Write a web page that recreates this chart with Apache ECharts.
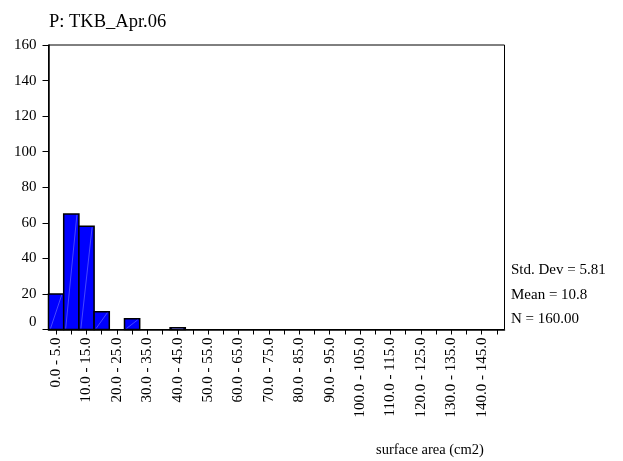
<!DOCTYPE html>
<html>
<head>
<meta charset="utf-8">
<script src="https://cdn.jsdelivr.net/npm/echarts@6/dist/echarts.min.js"></script>
<style>
  html, body { margin: 0; padding: 0; background: #fff; }
  #chart { width: 623px; height: 461px; }
</style>
</head>
<body>
<div id="chart"></div>
<script>
// Histogram of surface area, 5 cm2 bins
const binLabels = [
  '0.0 - 5.0', '5.0 - 10.0', '10.0 - 15.0', '15.0 - 20.0', '20.0 - 25.0',
  '25.0 - 30.0', '30.0 - 35.0', '35.0 - 40.0', '40.0 - 45.0', '45.0 - 50.0',
  '50.0 - 55.0', '55.0 - 60.0', '60.0 - 65.0', '65.0 - 70.0', '70.0 - 75.0',
  '75.0 - 80.0', '80.0 - 85.0', '85.0 - 90.0', '90.0 - 95.0', '95.0 - 100.0',
  '100.0 - 105.0', '105.0 - 110.0', '110.0 - 115.0', '115.0 - 120.0', '120.0 - 125.0',
  '125.0 - 130.0', '130.0 - 135.0', '135.0 - 140.0', '140.0 - 145.0', '145.0 - 150.0'
];
const counts = [
  20, 65, 58, 10, 0, 6, 0, 0, 1, 0,
  0, 0, 0, 0, 0, 0, 0, 0, 0, 0,
  0, 0, 0, 0, 0, 0, 0, 0, 0, 0
];
const statLines = ['Std. Dev = 5.81', 'Mean = 10.8', 'N = 160.00'];
const titleText = 'P: TKB_Apr.06';
const xTitle = 'surface area (cm2)';

const FONT = '"Liberation Serif", "Times New Roman", serif';

const chart = echarts.init(document.getElementById('chart'), null, { renderer: 'canvas' });

chart.setOption({
  backgroundColor: '#fff',
  animation: false,
  title: {
    text: titleText,
    left: 44,
    top: 8,
    textStyle: { fontFamily: FONT, fontSize: 18.5, fontWeight: 'normal', color: '#000' }
  },
  grid: {
    left: 48.5,
    right: 118.5,
    top: 45,
    bottom: 131.5,
    show: true,
    borderColor: '#000',
    borderWidth: 1,
    backgroundColor: 'transparent'
  },
  xAxis: {
    type: 'category',
    data: binLabels,
    boundaryGap: true,
    axisLine: { show: true, lineStyle: { color: '#000', width: 1.5 } },
    axisTick: { show: true, alignWithLabel: true, interval: 0, length: 5, lineStyle: { color: '#000' } },
    axisLabel: {
      interval: 1,
      rotate: 90,
      margin: 8,
      fontFamily: FONT,
      fontSize: 15,
      color: '#000'
    },
    splitLine: { show: false }
  },
  yAxis: {
    type: 'value',
    min: 0,
    max: 160,
    interval: 20,
    axisLine: { show: true, lineStyle: { color: '#000', width: 1.5 } },
    axisTick: { show: true, length: 6, lineStyle: { color: '#000' } },
    axisLabel: {
      margin: 12,
      fontFamily: FONT,
      fontSize: 15,
      color: '#000',
      formatter: function (v) { return v === 0 ? '{z|0}' : String(v); },
      rich: {
        z: { fontFamily: FONT, fontSize: 15, color: '#000', padding: [0, 0, 14, 0] }
      }
    },
    splitLine: { show: false }
  },
  graphic: statLines.map(function (t, i) {
    return {
      type: 'text',
      left: 511,
      top: 263 + i * 24.5,
      style: { text: t, fontFamily: FONT, fontSize: 15, fill: '#000' }
    };
  }).concat([{
    type: 'text',
    left: 376,
    top: 443,
    style: { text: xTitle, fontFamily: FONT, fontSize: 14.5, fill: '#000' }
  }]),
  series: [{
    type: 'custom',
    data: counts.map(function (c, i) { return [i, c]; }),
    encode: { x: 0, y: 1 },
    renderItem: function (params, api) {
      const v = api.value(1);
      if (!v) return null;
      const idx = api.value(0);
      const top = api.coord([idx, v]);
      const base = api.coord([idx, 0]);
      const w = api.size([1, 0])[0];
      const x0 = top[0] - w / 2;
      const x1 = top[0] + w / 2;
      return {
        type: 'group',
        children: [{
          type: 'rect',
          shape: { x: x0, y: top[1], width: w, height: base[1] - top[1] },
          style: { fill: '#0000ff', stroke: '#000', lineWidth: 1.5 }
        }, {
          type: 'line',
          shape: { x1: x0 + 2, y1: base[1] - 1, x2: x1 - 2, y2: top[1] + 1 },
          style: { stroke: 'rgba(170,170,255,0.7)', lineWidth: 0.6 }
        }]
      };
    }
  }]
});
</script>
</body>
</html>
